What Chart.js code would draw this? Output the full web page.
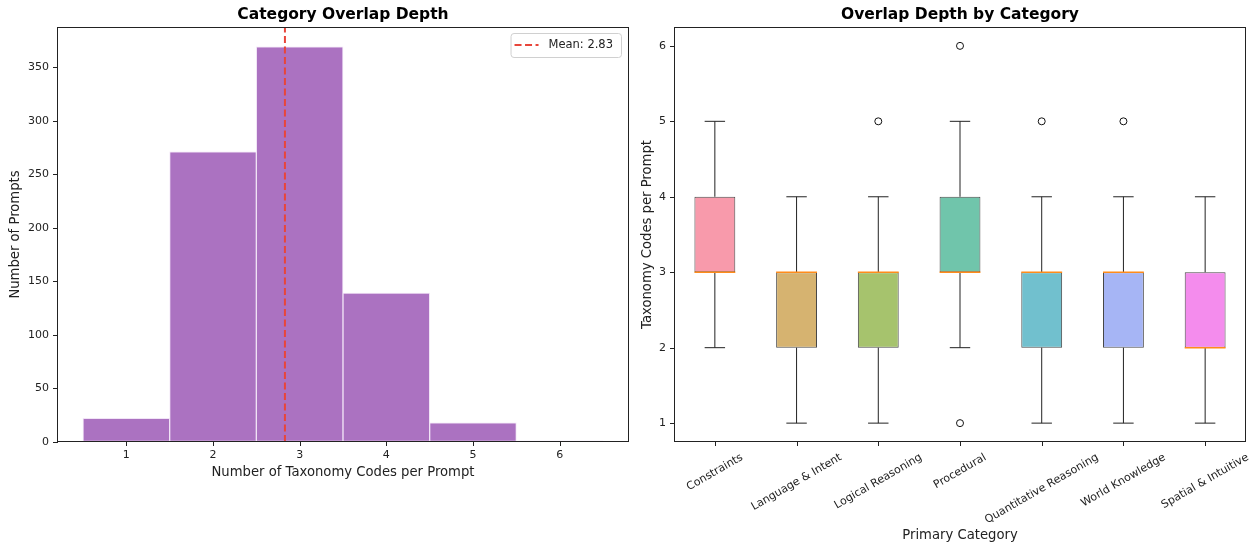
<!DOCTYPE html>
<html>
<head>
<meta charset="utf-8">
<script src="https://cdn.jsdelivr.net/npm/chart.js@4.4.1/dist/chart.umd.min.js"></script>
<style>
  body { margin: 0; background: #fff; }
  #wrap { position: relative; width: 1256px; height: 548px; overflow: hidden; }
  #histCanvas { position: absolute; left: 0; top: 0; }
  #boxCanvas { position: absolute; left: 636px; top: 0; }
</style>
</head>
<body>
<div id="wrap">
  <canvas id="histCanvas" width="636" height="548"></canvas>
  <canvas id="boxCanvas" width="620" height="548"></canvas>
</div>
<script>
// histogram data
const depthBins = [1, 2, 3, 4, 5, 6];
const depthCounts = [22, 271, 369, 139, 18, 1];
const meanDepth = 2.83;

// box plot data, one entry per category
const categories = ['Constraints', 'Language & Intent', 'Logical Reasoning', 'Procedural', 'Quantitative Reasoning', 'World Knowledge', 'Spatial & Intuitive'];
const whiskerLow = [2, 1, 1, 2, 1, 1, 1];
const quartile1 = [3, 2, 2, 3, 2, 2, 2];
const medians = [3, 3, 3, 3, 3, 3, 2];
const quartile3 = [4, 3, 3, 4, 3, 3, 3];
const whiskerHigh = [5, 4, 4, 5, 4, 4, 4];
const outliers = [[], [], [5], [6, 1], [5], [5], []];
const boxColors = ['#f89aab', '#d6b370', '#a6c36d', '#70c5ab', '#71c0ce', '#a6b5f5', '#f48ced'];

const FONT = "'DejaVu Sans', sans-serif";
Chart.defaults.font.family = FONT;
Chart.defaults.color = '#222';

const tickFont = { family: FONT, size: 11 };
const labelFont = { family: FONT, size: 13.2 };
const titleFont = { family: FONT, size: 15.5, weight: 'bold' };

// pixel of a value on a scale, falls back to the scale box if needed
function pixelOn(scale, v) {
    let p = scale.getPixelForValue(v);
    if (!isFinite(p)) {
        const t = (v - scale.min) / (scale.max - scale.min);
        p = scale.isHorizontal() ? scale.left + t * scale.width : scale.bottom - t * scale.height;
    }
    return p;
}

// black frame around the plot area (matplotlib spines) plus outward tick marks
const framePlugin = {
    id: 'frame',
    afterDraw(chart, args, opts) {
        const { ctx, chartArea: a } = chart;
        const { x: xs, y: ys } = chart.scales;
        ctx.save();
        ctx.setLineDash([]);
        ctx.strokeStyle = '#222';
        ctx.fillStyle = '#222';
        ctx.lineWidth = 1;
        ctx.strokeRect(Math.round(a.left) + 0.5, Math.round(a.top) + 0.5,
            Math.round(a.right - a.left) - 1, Math.round(a.bottom - a.top) - 1);
        const bottom = Math.round(a.bottom);
        const left = Math.round(a.left);
        opts.xTicks.forEach(v => {
            const px = Math.round(pixelOn(xs, v));
            ctx.fillRect(px, bottom - 1, 1, 5);
        });
        ys.ticks.forEach(t => {
            const py = Math.round(pixelOn(ys, t.value));
            ctx.fillRect(left - 4, py, 5, 1);
        });
        ctx.restore();
    }
};

// legend box drawn inside the plot, top right
const meanLegend = {
    id: 'meanLegend',
    afterDraw(chart) {
        const { ctx, chartArea: a } = chart;
        const ds = chart.data.datasets[0];
        ctx.save();
        ctx.font = '11.5px ' + FONT;
        const tw = ctx.measureText(ds.label).width;
        const w = tw + 46, h = 24;
        const x = a.right - 8 - w, y = a.top + 6;
        ctx.beginPath();
        ctx.roundRect(x + 0.5, y + 0.5, w, h, 3);
        ctx.fillStyle = 'rgba(255,255,255,0.85)';
        ctx.fill();
        ctx.strokeStyle = '#d0d0d0';
        ctx.lineWidth = 1;
        ctx.stroke();
        ctx.beginPath();
        ctx.setLineDash(ds.borderDash);
        ctx.strokeStyle = ds.borderColor;
        ctx.lineWidth = ds.borderWidth;
        ctx.moveTo(x + 4, y + h / 2);
        ctx.lineTo(x + 28, y + h / 2);
        ctx.stroke();
        ctx.setLineDash([]);
        ctx.fillStyle = '#222';
        ctx.textBaseline = 'middle';
        ctx.fillText(ds.label, x + 38, y + h / 2 + 0.5);
        ctx.restore();
    }
};

// x tick labels rotated 30deg, centred on the tick like matplotlib
const rotatedLabels = {
    id: 'rotatedLabels',
    afterDraw(chart) {
        const { ctx, chartArea: a } = chart;
        const xs = chart.scales.x;
        const ang = Math.PI / 6, lh = 13;
        ctx.save();
        ctx.font = '11px ' + FONT;
        ctx.fillStyle = '#222';
        ctx.textAlign = 'center';
        ctx.textBaseline = 'middle';
        categories.forEach((name, i) => {
            const w = ctx.measureText(name).width;
            const bh = w * Math.sin(ang) + lh * Math.cos(ang);
            const px = xs.getPixelForValue(i + 1);
            const cy = a.bottom + 9 + bh / 2;
            ctx.save();
            ctx.translate(px, cy);
            ctx.rotate(-ang);
            ctx.fillText(name, 0, 0);
            ctx.restore();
        });
        ctx.restore();
    }
};

// invisible grid that still reserves the tick length; the marks come from framePlugin
const hiddenTicks = { display: true, offset: false, drawOnChartArea: false, drawTicks: true, tickLength: 4, color: 'rgba(0,0,0,0)' };
const titlePadding = { top: 6, bottom: 2.4 };

// ---------- left: histogram ----------
const countMax = Math.max(...depthCounts) * 1.05;

new Chart(document.getElementById('histCanvas'), {
    type: 'bar',
    data: {
        datasets: [
            {
                type: 'line',
                label: 'Mean: ' + meanDepth.toFixed(2),
                data: [{ x: meanDepth, y: 0 }, { x: meanDepth, y: countMax }],
                borderColor: '#e8453a',
                borderWidth: 2,
                borderDash: [7, 3.5],
                pointRadius: 0,
                order: 0
            },
            {
                label: 'Prompts',
                data: depthBins.map((b, i) => ({ x: b, y: depthCounts[i] })),
                backgroundColor: '#ab72c1',
                borderColor: 'rgba(240,225,245,0.9)',
                borderWidth: 1,
                borderSkipped: false,
                barPercentage: 1,
                categoryPercentage: 1,
                order: 1
            }
        ]
    },
    options: {
        responsive: false,
        animation: false,
        layout: { padding: { left: 0, right: 7, top: 0, bottom: 0 } },
        plugins: {
            legend: { display: false },
            tooltip: { enabled: false },
            frame: { xTicks: depthBins },
            title: {
                display: true,
                fullSize: false,
                text: 'Category Overlap Depth',
                font: titleFont,
                color: '#000',
                padding: titlePadding
            }
        },
        scales: {
            x: {
                type: 'linear',
                offset: false,
                min: 0.2,
                max: 6.8,
                grid: hiddenTicks,
                border: { display: false },
                afterBuildTicks: s => { s.ticks = depthBins.map(v => ({ value: v })); },
                ticks: { font: tickFont, padding: 3, maxRotation: 0, autoSkip: false },
                title: { display: true, text: 'Number of Taxonomy Codes per Prompt', font: labelFont, padding: { top: 0, bottom: 68 } },
                afterFit: s => { s.height = 106; }
            },
            y: {
                min: 0,
                max: countMax,
                grid: hiddenTicks,
                border: { display: false },
                ticks: { stepSize: 50, includeBounds: false, font: tickFont, padding: 4 },
                title: { display: true, text: 'Number of Prompts', font: labelFont, padding: { top: 8, bottom: 0 } },
                afterFit: s => { s.width = 57; }
            }
        }
    },
    plugins: [framePlugin, meanLegend]
});

// ---------- right: box plot ----------
const positions = categories.map((c, i) => i + 1);
const boxHalf = 0.25, capHalf = 0.125;

const whiskerPoints = [];
const capPoints = [];
const medianPoints = [];
const outlierPoints = [];
positions.forEach((p, i) => {
    // each whisker is listed bottom to top
    whiskerPoints.push({ x: p, y: whiskerLow[i] }, { x: p, y: quartile1[i] }, { x: p, y: null });
    whiskerPoints.push({ x: p, y: quartile3[i] }, { x: p, y: whiskerHigh[i] }, { x: p, y: null });
    capPoints.push({ x: p - capHalf, y: whiskerLow[i] }, { x: p + capHalf, y: whiskerLow[i] }, { x: p, y: null });
    capPoints.push({ x: p - capHalf, y: whiskerHigh[i] }, { x: p + capHalf, y: whiskerHigh[i] }, { x: p, y: null });
    medianPoints.push({ x: p - boxHalf, y: medians[i] }, { x: p + boxHalf, y: medians[i] }, { x: p, y: null });
    outliers[i].forEach(v => outlierPoints.push({ x: p, y: v }));
});

const segLine = (data, color, width, order) => ({
    type: 'line',
    data: data,
    borderColor: color,
    borderWidth: width,
    pointRadius: 0,
    spanGaps: false,
    order: order
});

new Chart(document.getElementById('boxCanvas'), {
    type: 'bar',
    data: {
        datasets: [
            segLine(medianPoints, '#ff8c1a', 1.6, 0),
            segLine(whiskerPoints, '#222', 1, 1),
            segLine(capPoints, '#222', 1, 1),
            {
                type: 'scatter',
                data: outlierPoints,
                pointRadius: 3.5,
                pointBorderWidth: 1,
                pointBorderColor: '#111',
                pointBackgroundColor: 'rgba(0,0,0,0)',
                order: 1
            },
            {
                data: positions.map((p, i) => ({ x: p, y: [quartile1[i], quartile3[i]] })),
                backgroundColor: boxColors,
                borderColor: 'rgba(0,0,0,0.72)',
                borderWidth: 1,
                borderSkipped: false,
                barPercentage: 0.5,
                categoryPercentage: 1,
                order: 2
            }
        ]
    },
    options: {
        responsive: false,
        animation: false,
        layout: { padding: { left: 0, right: 10, top: 0, bottom: 0 } },
        plugins: {
            legend: { display: false },
            tooltip: { enabled: false },
            frame: { xTicks: positions },
            title: {
                display: true,
                fullSize: false,
                text: 'Overlap Depth by Category',
                font: titleFont,
                color: '#000',
                padding: titlePadding
            }
        },
        scales: {
            x: {
                type: 'linear',
                offset: false,
                min: 0.5,
                max: 7.5,
                grid: hiddenTicks,
                border: { display: false },
                afterBuildTicks: s => { s.ticks = positions.map(v => ({ value: v })); },
                ticks: { maxRotation: 0, autoSkip: false, callback: () => '' },
                title: { display: true, text: 'Primary Category', font: labelFont, padding: { top: 0, bottom: 5 } },
                afterFit: s => { s.height = 106; }
            },
            y: {
                min: 0.75,
                max: 6.25,
                grid: hiddenTicks,
                border: { display: false },
                ticks: { stepSize: 1, includeBounds: false, font: tickFont, padding: 4 },
                title: { display: true, text: 'Taxonomy Codes per Prompt', font: labelFont, padding: { top: 4, bottom: 0 } },
                afterFit: s => { s.width = 38; }
            }
        }
    },
    plugins: [framePlugin, rotatedLabels]
});
</script>
</body>
</html>
